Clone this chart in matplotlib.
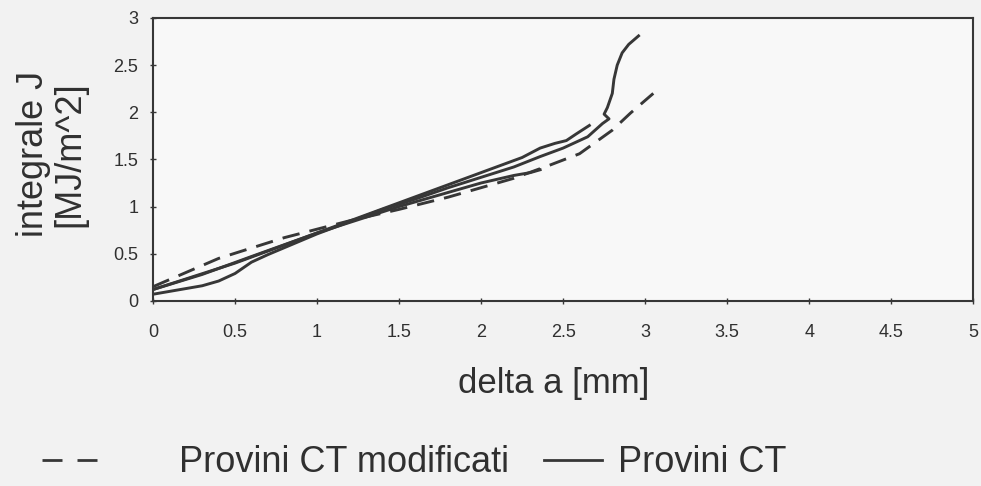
import matplotlib
matplotlib.use("Agg")
import numpy as np
from matplotlib import pyplot as plt
from matplotlib.lines import Line2D

plt.rcParams['font.family'] = ['Liberation Sans', 'DejaVu Sans']

# Provini CT (solid)
ct1_x = [0, 0.25, 0.5, 0.75, 1.0, 1.25, 1.5, 1.75, 2.0, 2.25, 2.36, 2.45, 2.52, 2.58, 2.66]
ct1_y = [0.12, 0.26, 0.40, 0.56, 0.72, 0.88, 1.04, 1.20, 1.36, 1.52, 1.62, 1.67, 1.70, 1.77, 1.86]

ct2_x = [0, 0.1, 0.2, 0.3, 0.4, 0.5, 0.6, 0.7, 0.85, 1.0, 1.2, 1.4, 1.6, 1.8, 2.0, 2.2, 2.36,
         2.5, 2.65, 2.74, 2.78, 2.75, 2.77, 2.80, 2.81, 2.83, 2.86, 2.90, 2.96]
ct2_y = [0.07, 0.10, 0.13, 0.16, 0.21, 0.29, 0.41, 0.49, 0.60, 0.71, 0.84, 0.97, 1.08, 1.20,
         1.31, 1.42, 1.53, 1.62, 1.74, 1.88, 1.93, 1.98, 2.05, 2.20, 2.35, 2.50, 2.63, 2.72, 2.81]

ct3_x = [0, 0.3, 0.6, 1.0, 1.5, 2.0, 2.2, 2.3, 2.36]
ct3_y = [0.12, 0.28, 0.47, 0.72, 1.00, 1.25, 1.33, 1.36, 1.39]

# Provini CT modificati (dashed)
mod_x = [0, 0.2, 0.4, 0.6, 0.8, 1.0, 1.2, 1.5, 1.8, 2.0, 2.2, 2.42, 2.6, 2.8, 2.91, 3.05]
mod_y = [0.15, 0.30, 0.45, 0.56, 0.67, 0.76, 0.85, 0.97, 1.10, 1.20, 1.30, 1.44, 1.56, 1.81, 1.99, 2.20]

xticks = [0, 0.5, 1, 1.5, 2, 2.5, 3, 3.5, 4, 4.5, 5]
yticks = [0, 0.5, 1, 1.5, 2, 2.5, 3]

col = '#373737'
txt = '#303030'
fig = plt.figure(figsize=(9.81, 4.86), dpi=100, facecolor='#f2f2f2')
ax = fig.add_axes([0.156, 0.381, 0.836, 0.582], facecolor='#f8f8f8')

ax.plot(mod_x, mod_y, color=col, lw=2.1, dashes=(6, 3.5))
ax.plot(ct1_x, ct1_y, color=col, lw=2.1)
ax.plot(ct2_x, ct2_y, color=col, lw=2.1)
ax.plot(ct3_x, ct3_y, color=col, lw=2.1)

ax.set_xlim(0, 5)
ax.set_ylim(0, 3)
ax.set_xticks(xticks)
ax.set_yticks(yticks)
ax.set_xticklabels([f'{v:g}' for v in xticks])
ax.set_yticklabels([f'{v:g}' for v in yticks])
ax.tick_params(direction='inout', length=5, width=1, color=col, labelcolor=txt,
               labelsize=13)
ax.tick_params(axis='x', pad=14)
ax.tick_params(axis='y', pad=8)
for s in ax.spines.values():
    s.set_color(col)
    s.set_linewidth(1.5)

ax.set_xlabel('delta a [mm]', fontsize=25, color=txt)
ax.xaxis.set_label_coords(0.488, -0.235, transform=ax.transAxes)
ax.xaxis.label.set_va('top')
ax.set_ylabel('integrale J\n[MJ/m^2]', fontsize=26, color=txt, linespacing=1.05)
ax.yaxis.set_label_coords(-0.124, 0.52)
ax.yaxis.label.set_va('center')

h_mod = Line2D([], [], color=col, lw=2, dashes=(7.2, 5.4))
h_ct = Line2D([], [], color=col, lw=2)
fig.legend(handles=[h_mod], labels=['Provini CT modificati'], loc='lower left',
           bbox_to_anchor=(0.043, 0.012), frameon=False, fontsize=26,
           handlelength=1.6, handletextpad=2.2, borderpad=0, borderaxespad=0,
           labelcolor=txt)
fig.legend(handles=[h_ct], labels=['Provini CT'], loc='lower left',
           bbox_to_anchor=(0.555, 0.012), frameon=False, fontsize=26,
           handlelength=1.6, handletextpad=0.45, borderpad=0, borderaxespad=0,
           labelcolor=txt)

fig.savefig('out.png', dpi=100, facecolor=fig.get_facecolor())
